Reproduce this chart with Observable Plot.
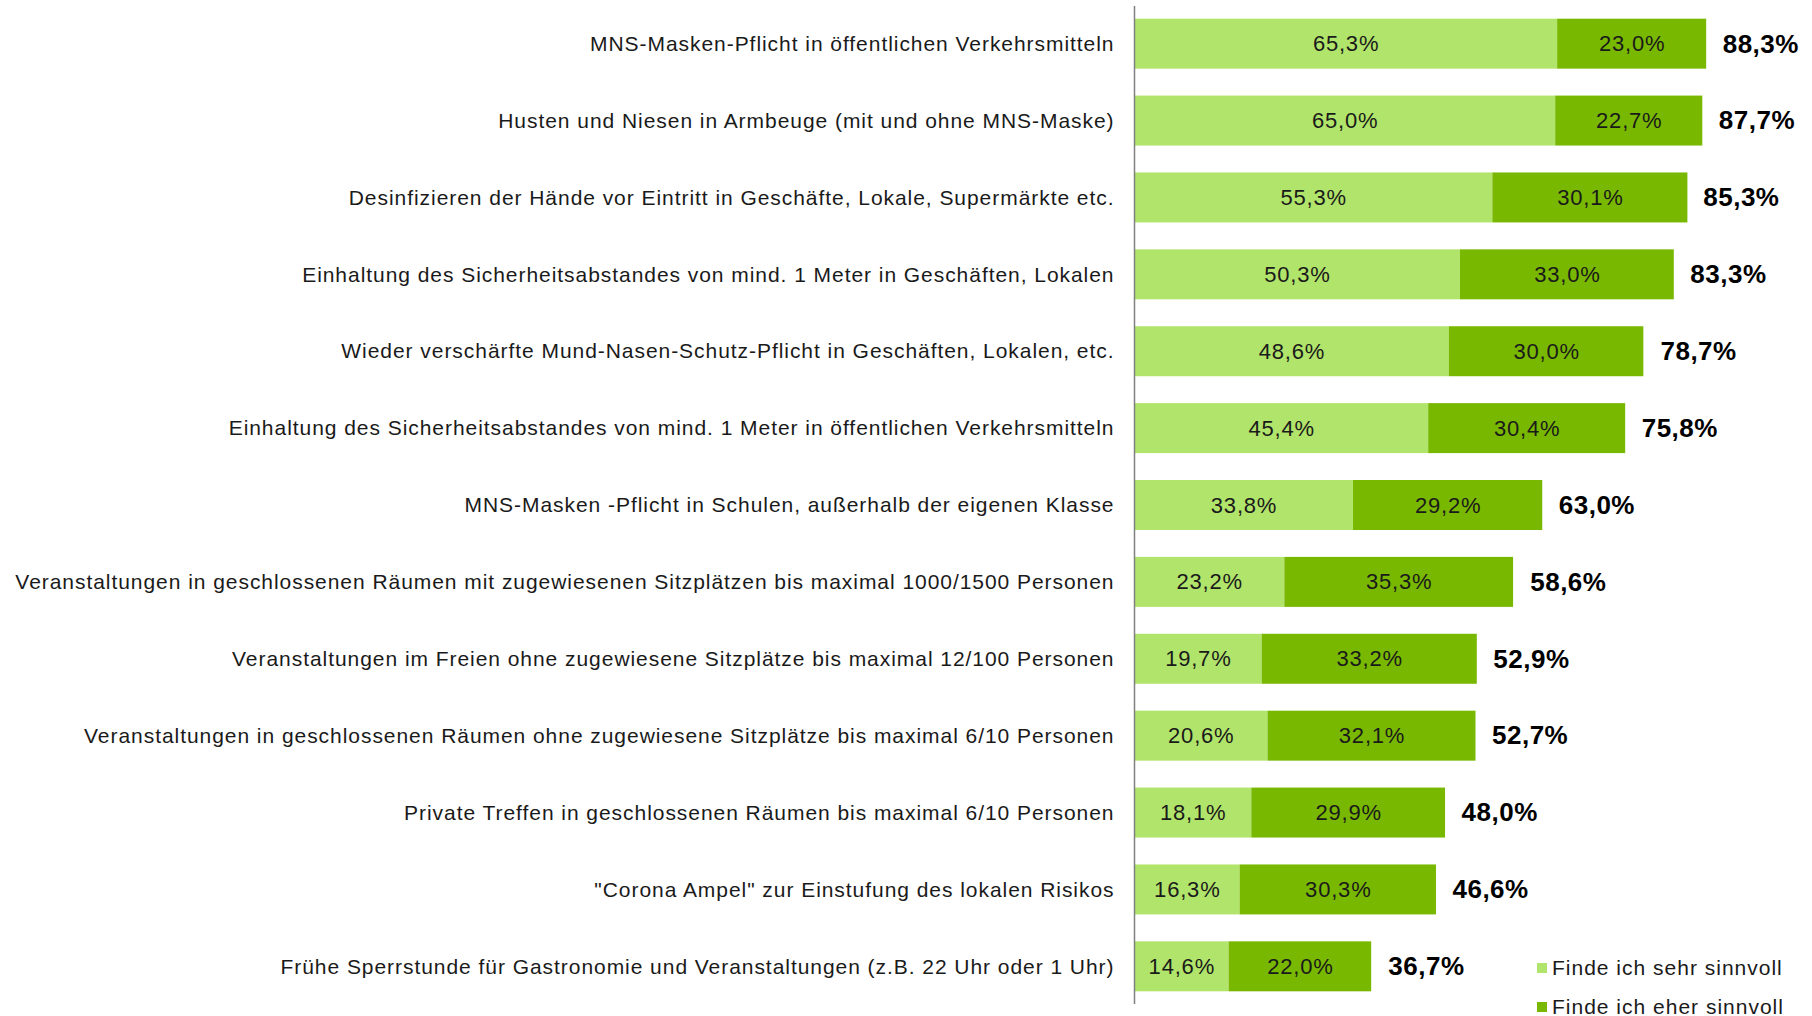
<!DOCTYPE html>
<html><head><meta charset="utf-8">
<script src="https://cdn.jsdelivr.net/npm/d3@7"></script>
<script src="https://cdn.jsdelivr.net/npm/@observablehq/plot@0.6"></script>
<style>
body{margin:0;background:#fff;font-family:"Liberation Sans",Arial,sans-serif;}
#wrap{position:relative;width:1812px;height:1016px;}
#legend{position:absolute;left:1537px;top:948px;font-size:21px;letter-spacing:1px;color:#1a1a1a;}
.item{display:flex;align-items:center;height:39px;}
.sw{width:10px;height:10px;margin-right:5px;}
g[aria-label="y-axis tick label"] text{letter-spacing:0.95px;}
</style></head>
<body>
<div id="wrap"><div id="chart"></div><div id="legend"></div></div>
<script>
const categories = [
  "MNS-Masken-Pflicht in öffentlichen Verkehrsmitteln",
  "Husten und Niesen in Armbeuge (mit und ohne MNS-Maske)",
  "Desinfizieren der Hände vor Eintritt in Geschäfte, Lokale, Supermärkte etc.",
  "Einhaltung des Sicherheitsabstandes von mind. 1 Meter in Geschäften, Lokalen",
  "Wieder verschärfte Mund-Nasen-Schutz-Pflicht in Geschäften, Lokalen, etc.",
  "Einhaltung des Sicherheitsabstandes von mind. 1 Meter in öffentlichen Verkehrsmitteln",
  "MNS-Masken -Pflicht in Schulen, außerhalb der eigenen Klasse",
  "Veranstaltungen in geschlossenen Räumen mit zugewiesenen Sitzplätzen bis maximal 1000/1500 Personen",
  "Veranstaltungen im Freien ohne zugewiesene Sitzplätze bis maximal 12/100 Personen",
  "Veranstaltungen in geschlossenen Räumen ohne zugewiesene Sitzplätze bis maximal 6/10 Personen",
  "Private Treffen in geschlossenen Räumen bis maximal 6/10 Personen",
  "\"Corona Ampel\" zur Einstufung des lokalen Risikos",
  "Frühe Sperrstunde für Gastronomie und Veranstaltungen (z.B. 22 Uhr oder 1 Uhr)"
];
const seriesNames = ["Finde ich sehr sinnvoll", "Finde ich eher sinnvoll"];
const sehrSinnvoll = [65.3, 65.0, 55.3, 50.3, 48.6, 45.4, 33.8, 23.2, 19.7, 20.6, 18.1, 16.3, 14.6];
const eherSinnvoll = [23.0, 22.7, 30.1, 33.0, 30.0, 30.4, 29.2, 35.3, 33.2, 32.1, 29.9, 30.3, 22.0];
const totals = [88.3, 87.7, 85.3, 83.3, 78.7, 75.8, 63.0, 58.6, 52.9, 52.7, 48.0, 46.6, 36.7];
const colors = ["#b1e46a", "#78b800"];

const fmt = v => v.toFixed(1).replace(".", ",") + "%";
const rows = [];
categories.forEach((c, i) => {
  rows.push({cat: c, series: seriesNames[0], value: sehrSinnvoll[i]});
  rows.push({cat: c, series: seriesNames[1], value: eherSinnvoll[i]});
});
const totalRows = categories.map((c, i) => ({cat: c, total: totals[i]}));

const plot = Plot.plot({
  width: 1812,
  height: 1016,
  marginLeft: 1134,
  marginRight: 30,
  marginTop: 6,
  marginBottom: 12,
  style: {fontFamily: "'Liberation Sans', Arial, sans-serif", fontSize: "20px", color: "#1a1a1a", background: "#fff"},
  x: {domain: [0, 100], axis: null},
  y: {domain: categories, paddingInner: 0.35, paddingOuter: 0.165, round: false, label: null},
  color: {domain: seriesNames, range: colors},
  marks: [
    Plot.barX(rows, Plot.stackX({x: "value", y: "cat", z: "series", fill: "series", order: seriesNames})),
    Plot.text(rows, Plot.stackX({x: "value", y: "cat", z: "series", order: seriesNames, text: d => fmt(d.value), fontSize: 22, fill: "#1a1a1a"})),
    Plot.text(totalRows, {x: "total", y: "cat", text: d => fmt(d.total), textAnchor: "start", dx: 16, fontSize: 26, fontWeight: "bold", fill: "#000"}),
    Plot.ruleX([0], {stroke: "#808080", strokeWidth: 1.5}),
    Plot.axisY({tickSize: 0, tickPadding: 20, fontSize: 21, label: null})
  ]
});
const textGroups = d3.select(plot).selectAll('g[aria-label="text"]').nodes();
if (textGroups[0]) textGroups[0].style.letterSpacing = "0.8px";
if (textGroups[1]) textGroups[1].style.letterSpacing = "0.5px";
document.getElementById("chart").appendChild(plot);

const legend = document.getElementById("legend");
seriesNames.forEach((s, i) => {
  const it = document.createElement("div");
  it.className = "item";
  const sw = document.createElement("span");
  sw.className = "sw";
  sw.style.background = colors[i];
  const t = document.createElement("span");
  t.textContent = s;
  it.appendChild(sw); it.appendChild(t);
  legend.appendChild(it);
});
</script>
</body></html>
